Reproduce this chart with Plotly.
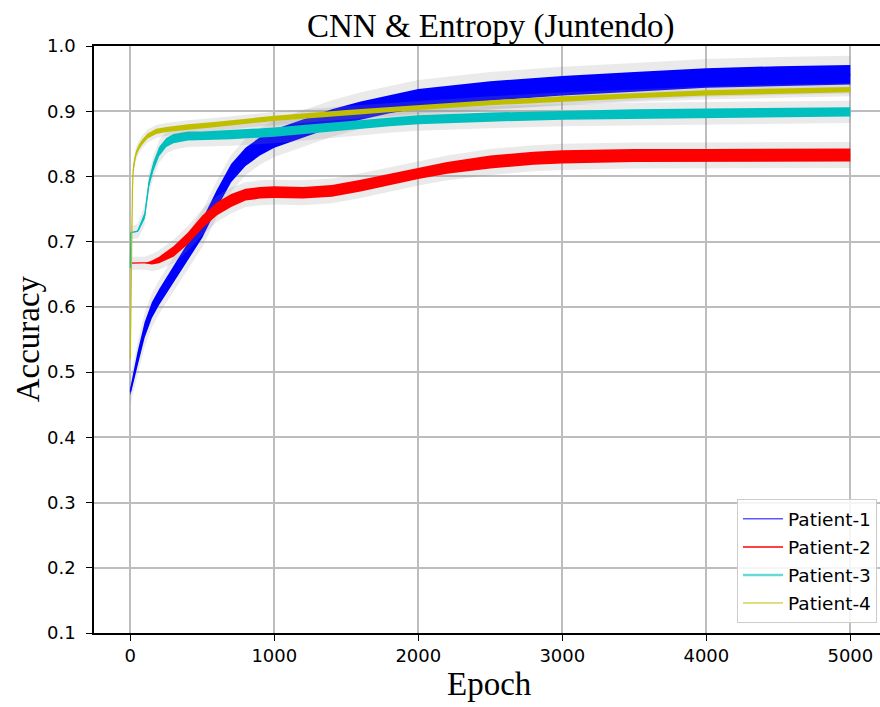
import plotly.graph_objects as go

# ---------------- data ----------------
series_names = ["Patient-1", "Patient-2", "Patient-3", "Patient-4"]

p1_epoch = [0, 20, 50, 100, 150, 200, 300, 400, 500, 600, 700, 800, 900, 1000,
            1200, 1400, 1600, 1800, 2000, 2500, 3000, 3500, 4000, 4500, 5000]
p1_mid = [0.47, 0.49, 0.52, 0.565, 0.595, 0.615, 0.65, 0.685, 0.72, 0.765, 0.805,
          0.83, 0.846, 0.858, 0.874, 0.889, 0.901, 0.911, 0.919, 0.931, 0.939,
          0.945, 0.951, 0.954, 0.956]
p1_spread = [0.006, 0.009, 0.011, 0.012, 0.012, 0.012, 0.013, 0.014, 0.014, 0.014,
             0.014, 0.014, 0.014, 0.014, 0.014, 0.014, 0.014, 0.014, 0.015, 0.015,
             0.015, 0.015, 0.015, 0.015, 0.015]

p2_epoch = [0, 100, 150, 200, 300, 400, 500, 600, 700, 800, 900, 1000, 1200,
            1400, 1600, 1800, 2000, 2200, 2500, 2800, 3000, 3500, 4000, 4500, 5000]
p2_mid = [0.667, 0.667, 0.668, 0.672, 0.685, 0.705, 0.73, 0.75, 0.763, 0.772,
          0.775, 0.776, 0.775, 0.778, 0.786, 0.795, 0.805, 0.813, 0.822, 0.828,
          0.830, 0.832, 0.832, 0.833, 0.833]
p2_spread = [0.0, 0.0, 0.003, 0.005, 0.008, 0.009, 0.01, 0.01, 0.01, 0.009,
             0.009, 0.009, 0.009, 0.009, 0.009, 0.009, 0.009, 0.009, 0.01,
             0.01, 0.01, 0.01, 0.01, 0.01, 0.01]

p3_epoch = [0, 2, 5, 50, 60, 100, 130, 160, 200, 250, 300, 400, 500, 700, 1000,
            1200, 1500, 1800, 2000, 2500, 3000, 3500, 4000, 4500, 5000]
p3_mid = [0.66, 0.714, 0.714, 0.716, 0.72, 0.74, 0.79, 0.815, 0.838, 0.852,
          0.858, 0.862, 0.862, 0.864, 0.868, 0.872, 0.878, 0.884, 0.887, 0.891,
          0.894, 0.896, 0.897, 0.898, 0.899]
p3_spread = [0.0, 0.0, 0.0, 0.001, 0.003, 0.005, 0.006, 0.007, 0.007, 0.007,
             0.007, 0.007, 0.007, 0.007, 0.007, 0.007, 0.007, 0.007, 0.007,
             0.007, 0.007, 0.007, 0.007, 0.007, 0.007]

p4_epoch = [0, 3, 6, 10, 15, 20, 30, 40, 60, 80, 120, 180, 250, 400, 600, 1000,
            1500, 2000, 2500, 3000, 3500, 4000, 4500, 5000]
p4_mid = [0.52, 0.60, 0.62, 0.70, 0.78, 0.81, 0.825, 0.835, 0.845, 0.852, 0.862,
          0.869, 0.872, 0.876, 0.880, 0.889, 0.898, 0.906, 0.913, 0.919, 0.924,
          0.928, 0.931, 0.933]
p4_spread = [0.0, 0.002, 0.003, 0.004, 0.004, 0.004, 0.004, 0.004, 0.004, 0.004,
             0.004, 0.004, 0.004, 0.004, 0.004, 0.004, 0.004, 0.004, 0.004, 0.004,
             0.004, 0.004, 0.004, 0.004]

gray_margin = [0.014, 0.010, 0.010, 0.006]   # extra width of the grey std band

x_ticks = [0, 1000, 2000, 3000, 4000, 5000]
y_ticks = [0.1, 0.2, 0.3, 0.4, 0.5, 0.6, 0.7, 0.8, 0.9, 1.0]

# ---------------- styling ----------------
colors = ["#0000ff", "#ff0000", "#00bfbf", "#bfbf00"]
legend_colors = ["rgba(0,0,255,0.65)", "#ff0000", "rgba(0,191,191,0.6)", "#bfbf00"]
legend_widths = [1.5, 1.5, 2.5, 1.0]

epochs = [p1_epoch, p2_epoch, p3_epoch, p4_epoch]
mids = [p1_mid, p2_mid, p3_mid, p4_mid]
spreads = [p1_spread, p2_spread, p3_spread, p4_spread]

fig = go.Figure()

for i in range(4):
    x = epochs[i]
    m = mids[i]
    s = spreads[i]
    g = gray_margin[i]
    g_hi = [v + d + g for v, d in zip(m, s)]
    g_lo = [v - d - g for v, d in zip(m, s)]
    c_hi = [v + d for v, d in zip(m, s)]
    c_lo = [v - d for v, d in zip(m, s)]
    fig.add_trace(go.Scatter(
        x=x + x[::-1], y=g_hi + g_lo[::-1], fill="toself",
        fillcolor="rgba(140,140,140,0.18)", line=dict(width=0),
        mode="lines", showlegend=False, hoverinfo="skip"))
    fig.add_trace(go.Scatter(
        x=x + x[::-1], y=c_hi + c_lo[::-1], fill="toself",
        fillcolor=colors[i], line=dict(width=0),
        mode="lines", showlegend=False, hoverinfo="skip"))
    fig.add_trace(go.Scatter(
        x=x, y=m, mode="lines", line=dict(color=colors[i], width=1.2),
        showlegend=False, name=series_names[i]))

for i in range(4):
    fig.add_trace(go.Scatter(
        x=[None], y=[None], mode="lines", name=series_names[i],
        legendgroup="g%d" % i,
        line=dict(color=legend_colors[i], width=legend_widths[i]),
        showlegend=True))

W, H = 880, 707
L, T, B = 94, 45.7, 632.7
plot_w = W - L
plot_h = B - T

fig.update_layout(
    width=W, height=H,
    margin=dict(l=L, r=0, t=T, b=H - B, pad=0),
    paper_bgcolor="white", plot_bgcolor="white",
    showlegend=True,
    legend=dict(
        x=(877 - L) / plot_w, y=(B - 623) / plot_h,
        xanchor="right", yanchor="bottom",
        bgcolor="rgba(255,255,255,0.85)", bordercolor="#cccccc", borderwidth=1,
        font=dict(family="DejaVu Sans", size=18.5, color="black"),
        itemwidth=40, tracegroupgap=1,
    ),
    font=dict(family="DejaVu Sans", size=18, color="black"),
)

fig.update_xaxes(
    range=[-252, 5206], tickvals=x_ticks, ticktext=[str(v) for v in x_ticks],
    showgrid=True, gridcolor="#bdbdbd", gridwidth=1.5,
    showline=True, linecolor="black", linewidth=1.5, mirror=True,
    ticks="outside", ticklen=6, tickwidth=1.2, tickcolor="black",
    zeroline=False, tickfont=dict(family="DejaVu Sans", size=18, color="black"),
)
fig.update_yaxes(
    range=[0.1, 1.0], tickvals=y_ticks, ticktext=["%.1f" % v for v in y_ticks],
    showgrid=True, gridcolor="#bdbdbd", gridwidth=1.5,
    showline=True, linecolor="black", linewidth=1.5, mirror=False,
    ticks="outside", ticklen=6, tickwidth=1.2, tickcolor="black",
    ticklabelstandoff=7,
    zeroline=False, tickfont=dict(family="DejaVu Sans", size=18, color="black"),
)

serif = "Liberation Serif, Times New Roman, serif"
fig.add_annotation(
    text="CNN & Entropy (Juntendo)", xref="paper", yref="paper",
    x=(490.5 - L) / plot_w, y=(B - 26) / plot_h, xanchor="center", yanchor="middle",
    showarrow=False, font=dict(family=serif, size=33, color="black"))
fig.add_annotation(
    text="Epoch", xref="paper", yref="paper",
    x=(490 - L) / plot_w, y=(B - 684) / plot_h, xanchor="center", yanchor="middle",
    showarrow=False, font=dict(family=serif, size=33, color="black"))
fig.add_annotation(
    text="Accuracy", xref="paper", yref="paper", textangle=-90,
    x=(28 - L) / plot_w, y=(B - 339) / plot_h, xanchor="center", yanchor="middle",
    showarrow=False, font=dict(family=serif, size=33, color="black"))

fig.write_html("out.html")
